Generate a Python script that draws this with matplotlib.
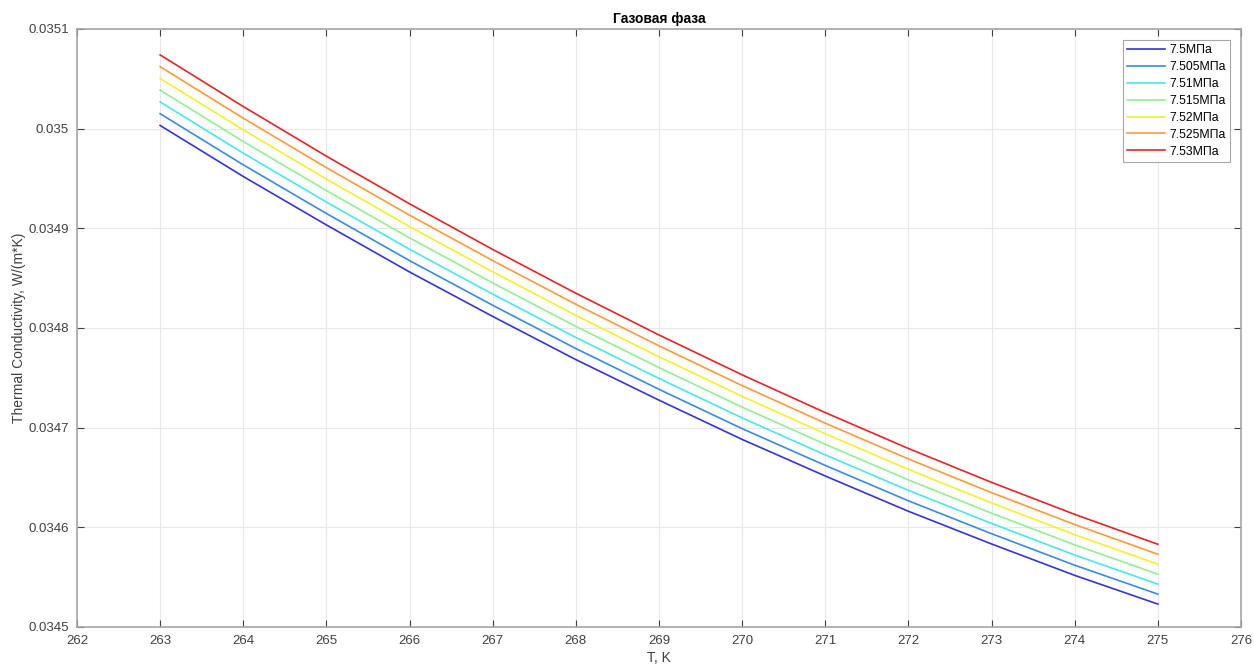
import matplotlib.pyplot as plt

plt.rcParams['font.family'] = ['Liberation Sans', 'DejaVu Sans']

T = [263, 264, 265, 266, 267, 268, 269, 270, 271, 272, 273, 274, 275]

labels = ['7.5МПа', '7.505МПа', '7.51МПа', '7.515МПа', '7.52МПа', '7.525МПа', '7.53МПа']

k_750 = [0.0350032, 0.0349520, 0.0349034, 0.0348562, 0.0348116, 0.0347683, 0.0347276,
         0.0346882, 0.0346515, 0.0346161, 0.0345833, 0.0345518, 0.0345230]
k_7505 = [0.0350150, 0.0349637, 0.0349149, 0.0348676, 0.0348228, 0.0347794, 0.0347385,
          0.0346990, 0.0346621, 0.0346266, 0.0345936, 0.0345620, 0.0345330]
k_751 = [0.0350268, 0.0349754, 0.0349264, 0.0348790, 0.0348340, 0.0347905, 0.0347494,
         0.0347098, 0.0346727, 0.0346371, 0.0346039, 0.0345722, 0.0345430]
k_7515 = [0.0350386, 0.0349871, 0.0349379, 0.0348904, 0.0348452, 0.0348016, 0.0347603,
          0.0347206, 0.0346833, 0.0346476, 0.0346142, 0.0345824, 0.0345530]
k_752 = [0.0350504, 0.0349988, 0.0349494, 0.0349018, 0.0348564, 0.0348127, 0.0347712,
         0.0347314, 0.0346939, 0.0346581, 0.0346245, 0.0345926, 0.0345630]
k_7525 = [0.0350622, 0.0350105, 0.0349609, 0.0349132, 0.0348676, 0.0348238, 0.0347821,
          0.0347422, 0.0347045, 0.0346686, 0.0346348, 0.0346028, 0.0345730]
k_753 = [0.0350740, 0.0350222, 0.0349724, 0.0349246, 0.0348788, 0.0348349, 0.0347930,
         0.0347530, 0.0347151, 0.0346791, 0.0346451, 0.0346130, 0.0345830]

series = [k_750, k_7505, k_751, k_7515, k_752, k_7525, k_753]
colors = ['#3434dc', '#3a8ae4', '#48e6ee', '#94ee94', '#f4f02c', '#ff9a3c', '#e62428']

fig = plt.figure(figsize=(12.54, 6.68), dpi=100)
ax = fig.add_axes([0.0614, 0.0614, 0.9282, 0.8952])

for y, c, lab in zip(series, colors, labels):
    ax.plot(T, y, color=c, lw=1.2, label=lab)

ax.set_xlim(262, 276)
ax.set_ylim(0.0345, 0.0351)
ax.set_xticks(range(262, 277))
ax.set_yticks([0.0345, 0.0346, 0.0347, 0.0348, 0.0349, 0.035, 0.0351])
ax.set_yticklabels(['0.0345', '0.0346', '0.0347', '0.0348', '0.0349', '0.035', '0.0351'])
ax.grid(True, color='#e8e8e8', lw=0.8)
ax.tick_params(direction='in', top=True, right=True, labelsize=9.5,
               colors='#404040', length=5, width=0.8)
ax.tick_params(axis='x', pad=6)
ax.tick_params(axis='y', pad=6)
for s in ax.spines.values():
    s.set_color('#a6a6a6')
    s.set_linewidth(1.2)

ax.set_xlabel('T, K', fontsize=10, color='#404040', labelpad=3)
ax.set_ylabel('Thermal Conductivity, W/(m*K)', fontsize=10, color='#404040')
ax.yaxis.set_label_coords(-0.0438, 0.5)
ax.set_title('Газовая фаза', fontsize=10, fontweight='bold', pad=4)

leg = ax.legend(loc='upper right', fontsize=8.8, handlelength=3.1, handletextpad=0.35,
                fancybox=False, framealpha=1, edgecolor='#a6a6a6', borderpad=0.35,
                labelspacing=0.4, borderaxespad=0.9)
leg.get_frame().set_linewidth(0.8)

plt.savefig('out.png', dpi=100)
